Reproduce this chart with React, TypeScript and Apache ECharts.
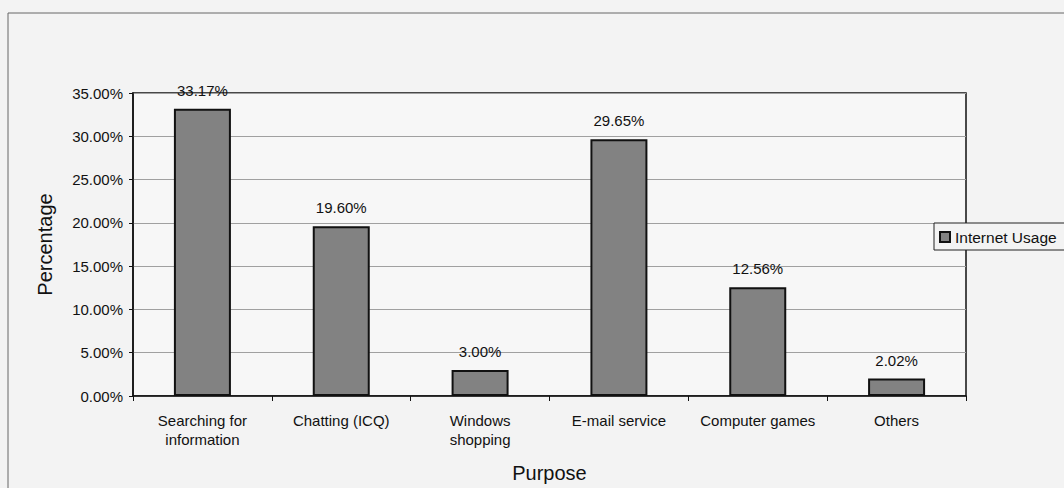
import React, { useEffect, useRef } from "react";
import * as echarts from "echarts";

const categories = [
  "Searching for\ninformation",
  "Chatting (ICQ)",
  "Windows\nshopping",
  "E-mail service",
  "Computer games",
  "Others",
];
const usageValues = [33.17, 19.6, 3.0, 29.65, 12.56, 2.02];
const seriesName = "Internet Usage";
const yTitle = "Percentage";
const xTitle = "Purpose";

const FONT = "'Liberation Sans', Arial, sans-serif";

export default function App() {
  const ref = useRef<HTMLDivElement>(null);
  useEffect(() => {
    if (!ref.current) return;
    const chart = echarts.init(ref.current, null, { renderer: "svg" });
    chart.setOption({
      animation: false,
      backgroundColor: "#f3f3f3",
      textStyle: { fontFamily: FONT },
      graphic: [
        {
          type: "rect",
          shape: { x: 8, y: 13, width: 1100, height: 520 },
          style: { fill: "none", stroke: "#666", lineWidth: 1 },
          z: 0,
        },
      ],
      grid: {
        left: 133,
        right: 98,
        top: 93,
        bottom: 90,
        show: true,
        backgroundColor: "#f7f7f7",
        borderColor: "#111",
        borderWidth: 1.5,
      },
      legend: {
        left: 934,
        top: 223,
        orient: "vertical",
        data: [seriesName],
        icon: "rect",
        itemWidth: 10,
        itemHeight: 10,
        itemGap: 4,
        padding: [6, 40, 5, 5],
        borderColor: "#222",
        borderWidth: 1,
        backgroundColor: "#f3f3f3",
        textStyle: { fontSize: 15.5, color: "#111", fontFamily: FONT },
      },
      xAxis: {
        type: "category",
        data: categories,
        name: xTitle,
        nameLocation: "middle",
        nameGap: 67,
        nameTextStyle: { fontSize: 20, color: "#111", fontFamily: FONT },
        axisLine: { lineStyle: { color: "#111", width: 1.5 } },
        axisTick: { show: true, length: 5, lineStyle: { color: "#111" } },
        axisLabel: {
          fontSize: 15,
          color: "#111",
          margin: 15,
          lineHeight: 19,
          fontFamily: FONT,
          interval: 0,
        },
      },
      yAxis: {
        type: "value",
        min: 0,
        max: 35,
        interval: 5,
        name: yTitle,
        nameLocation: "middle",
        nameGap: 78,
        nameTextStyle: { fontSize: 20, color: "#111", fontFamily: FONT },
        axisLine: { show: true, lineStyle: { color: "#111", width: 1.5 } },
        axisTick: { show: true, length: 4, lineStyle: { color: "#111" } },
        axisLabel: {
          fontSize: 15,
          color: "#111",
          margin: 10,
          fontFamily: FONT,
          formatter: (v: number) => `${v.toFixed(2)}%`,
        },
        splitLine: { show: true, lineStyle: { color: "#a0a0a0", width: 1 } },
      },
      series: [
        {
          name: seriesName,
          type: "bar",
          data: usageValues,
          barWidth: 57,
          itemStyle: { color: "#828282", borderColor: "#111", borderWidth: 2 },
          label: {
            show: true,
            position: "top",
            distance: 11,
            fontSize: 15,
            color: "#111",
            fontFamily: FONT,
            formatter: (p: any) => `${Number(p.value).toFixed(2)}%`,
          },
        },
      ],
    });
    return () => chart.dispose();
  }, []);
  return (
    <div
      ref={ref}
      style={{ position: "absolute", left: 0, top: 0, width: 1064, height: 488 }}
    />
  );
}
